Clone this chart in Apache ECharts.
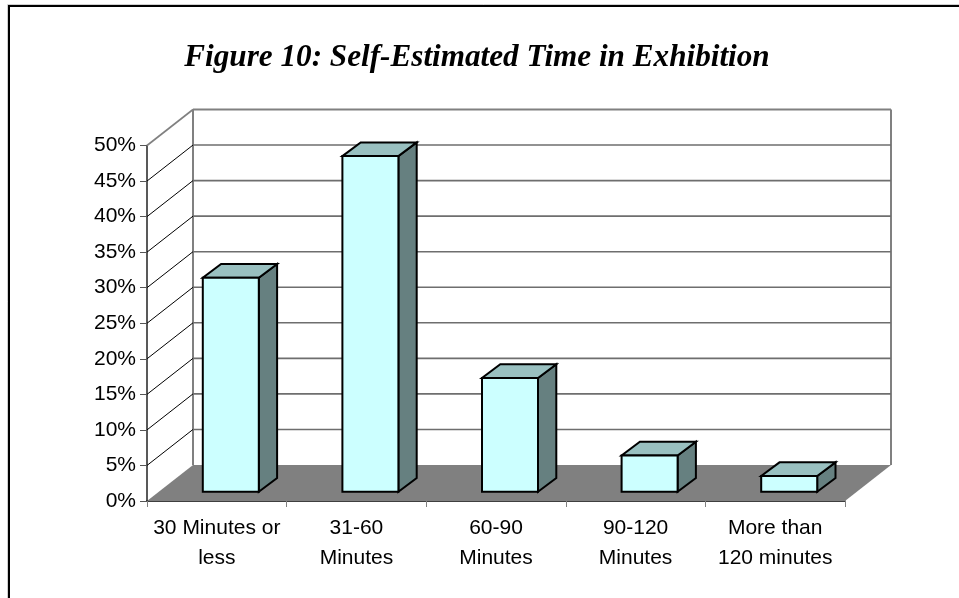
<!DOCTYPE html>
<html><head><meta charset="utf-8">
<style>html,body{margin:0;padding:0;background:#fff}#c{width:959px;height:598px}</style>
<script src="https://cdn.jsdelivr.net/npm/echarts@6/dist/echarts.min.js"></script>
</head><body><div id="c"></div>
<script>
const categories = ['30 Minutes or\nless', '31-60\nMinutes', '60-90\nMinutes', '90-120\nMinutes', 'More than\n120 minutes'];
const values = [30.1, 47.2, 16.0, 5.1, 2.2];
const yTicks = [0, 5, 10, 15, 20, 25, 30, 35, 40, 45, 50];

const WALL_DX = 46, WALL_DY = -36;          // depth of the chart box
const BAR_DX = 18.3, BAR_DY = -13.7;        // depth of a bar
const BAR_SHIFT_X = 14, BAR_SHIFT_Y = -9.3; // bar's place inside the floor
const BAR_W = 56;

const GRAY = '#808080';
const chart = echarts.init(document.getElementById('c'), null, {renderer: 'canvas'});

function line(x1, y1, x2, y2, stroke, w) {
  return {type: 'line', shape: {x1, y1, x2, y2}, silent: true, style: {stroke, lineWidth: w}};
}
function poly(points, fill, stroke, w) {
  return {type: 'polygon', shape: {points}, silent: true,
    style: {fill, stroke: stroke || fill, lineWidth: w || 0, lineJoin: 'miter'}};
}

function renderFrame(params, api) {
  const cs = params.coordSys;
  const v = api.value(1);
  const y = api.coord([0, v])[1];
  const x0 = cs.x, x1 = cs.x + cs.width;
  const children = [];
  if (v === yTicks[0]) {
    const yTop = api.coord([0, yTicks[yTicks.length - 1]])[1];
    children.push(poly([[x0, y], [x1, y], [x1 + WALL_DX, y + WALL_DY], [x0 + WALL_DX, y + WALL_DY]], GRAY));
    children.push(line(x0 + WALL_DX, y + WALL_DY, x0 + WALL_DX, yTop + WALL_DY, GRAY, 2));
    children.push(line(x1 + WALL_DX, y + WALL_DY, x1 + WALL_DX, yTop + WALL_DY, GRAY, 2));
  } else {
    const top = v === yTicks[yTicks.length - 1];
    children.push(line(x0, y, x0 + WALL_DX, y + WALL_DY, top ? GRAY : '#000', top ? 1.6 : 1));
    children.push(line(x0 + WALL_DX, y + WALL_DY, x1 + WALL_DX, y + WALL_DY, top ? GRAY : '#6e6e6e', top ? 2 : 1.6));
  }
  return {type: 'group', children};
}

function renderBar(params, api) {
  const i = api.value(0);
  const base = api.coord([i, 0]);
  const top = api.coord([i, api.value(1)]);
  const xl = base[0] - BAR_W / 2 + BAR_SHIFT_X, xr = xl + BAR_W;
  const yb = base[1] + BAR_SHIFT_Y, yt = top[1] + BAR_SHIFT_Y;
  const s = {stroke: '#000', w: 2};
  return {type: 'group', children: [
    poly([[xr, yb], [xr + BAR_DX, yb + BAR_DY], [xr + BAR_DX, yt + BAR_DY], [xr, yt]], '#668080', s.stroke, s.w),
    poly([[xl, yt], [xr, yt], [xr + BAR_DX, yt + BAR_DY], [xl + BAR_DX, yt + BAR_DY]], '#99c0c0', s.stroke, s.w),
    poly([[xl, yb], [xr, yb], [xr, yt], [xl, yt]], '#ccffff', s.stroke, s.w)
  ]};
}

chart.setOption({
  animation: false,
  backgroundColor: '#fff',
  title: {
    text: 'Figure 10: Self-Estimated Time in Exhibition',
    left: 472, top: 37, textAlign: 'center',
    textStyle: {fontFamily: 'Liberation Serif', fontStyle: 'italic', fontWeight: 'bold', fontSize: 31.2, color: '#000'}
  },
  graphic: [
    {type: 'rect', z: -1, silent: true, shape: {x: 7.5, y: 4.5, width: 970, height: 610},
      style: {fill: 'none', stroke: '#d0d0d0', lineWidth: 1}},
    {type: 'rect', z: -1, silent: true, shape: {x: 9, y: 6, width: 970, height: 610},
      style: {fill: 'none', stroke: '#000', lineWidth: 2}}
  ],
  grid: {left: 147, right: 114, top: 145.5, bottom: 97, containLabel: false},
  xAxis: {
    type: 'category', data: categories, boundaryGap: true,
    axisLine: {show: true, lineStyle: {color: '#000', width: 1.5}},
    axisTick: {show: true, alignWithLabel: false, length: 6, lineStyle: {color: GRAY, width: 1}},
    axisLabel: {interval: 0, color: '#000', fontFamily: 'Liberation Sans', fontSize: 21, lineHeight: 30, margin: 12},
    splitLine: {show: false}
  },
  yAxis: {
    type: 'value', min: 0, max: 50, interval: 5,
    axisLine: {show: true, lineStyle: {color: '#222', width: 1.5}},
    axisTick: {show: true, length: 7, lineStyle: {color: '#555', width: 1}},
    axisLabel: {color: '#000', fontFamily: 'Liberation Sans', fontSize: 21, margin: 11, formatter: '{value}%'},
    splitLine: {show: false}
  },
  series: [
    {type: 'custom', z: 1, renderItem: renderFrame, clip: false, silent: true,
      encode: {x: 0, y: 1}, data: yTicks.map(v => [0, v])},
    {type: 'custom', z: 3, renderItem: renderBar, clip: false, silent: true,
      encode: {x: 0, y: 1}, data: values.map((v, i) => [i, v])}
  ]
});
</script></body></html>
